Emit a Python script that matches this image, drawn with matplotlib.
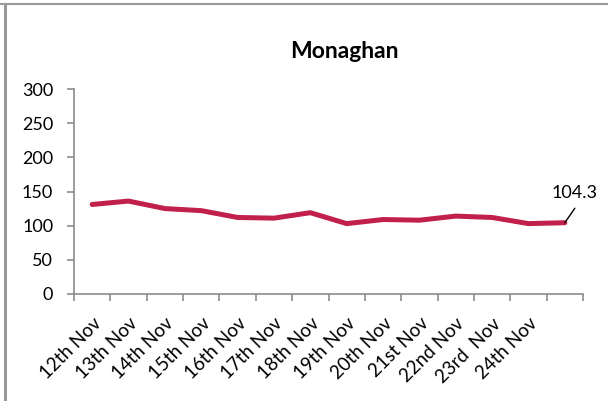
import matplotlib.pyplot as plt
from matplotlib.lines import Line2D
import numpy as np

plt.rcParams['font.family'] = ['Lato', 'DejaVu Sans']

# Data
dates = ['12th Nov', '13th Nov', '14th Nov', '15th Nov', '16th Nov', '17th Nov',
         '18th Nov', '19th Nov', '20th Nov', '21st Nov', '22nd Nov', '23rd  Nov',
         '24th Nov', '']
values = [131, 136, 125, 122, 112, 111, 119, 103, 109, 108, 114, 112, 103, 104.3]

line_color = '#C0204A'
axis_color = '#8C8C8C'

fig = plt.figure(figsize=(6.08, 4.01), dpi=100)
ax = fig.add_axes([74 / 608, 1 - 294 / 401, (583 - 74) / 608, (294 - 89) / 401])

x = np.arange(len(values))
ax.plot(x, values, color=line_color, lw=3.6, solid_capstyle='round', solid_joinstyle='round')

ax.set_xlim(-0.5, len(values) - 0.5)
ax.set_ylim(0, 300)
ax.set_yticks(range(0, 301, 50))

# category labels at centres, tick marks at boundaries
ax.set_xticks(x)
ax.set_xticklabels(dates, rotation=45, ha='right', va='top', rotation_mode='anchor', fontsize=13.5)
ax.set_xticks(np.arange(-0.5, len(values)), minor=True)
ax.tick_params(axis='x', which='major', length=0, pad=15)
ax.tick_params(axis='x', which='minor', length=5, width=1.2, color=axis_color, direction='out')
ax.tick_params(axis='y', length=5, width=1.2, color=axis_color, direction='out', pad=10, labelsize=13)

for side in ['top', 'right']:
    ax.spines[side].set_visible(False)
for side in ['left', 'bottom']:
    ax.spines[side].set_color(axis_color)
    ax.spines[side].set_linewidth(1.2)

# last value label with leader line
ax.annotate('', xy=(x[-1], values[-1]), xytext=(10, 14.5), textcoords='offset pixels',
            arrowprops=dict(arrowstyle='-', color='black', lw=1, shrinkA=0, shrinkB=0))
ax.annotate(f'{values[-1]}', xy=(x[-1], values[-1]), xytext=(10, 30), textcoords='offset pixels',
            ha='center', va='center', fontsize=13)

fig.text(344 / 608, 1 - 52 / 401, 'Monaghan', ha='center', va='center', fontsize=16.5, fontweight='bold')

# outer chart frame (top and left edges visible)
fig.add_artist(Line2D([0, 1], [1 - 4.3 / 401, 1 - 4.3 / 401], transform=fig.transFigure, color='#999999', lw=1.5))
fig.add_artist(Line2D([5 / 608, 5 / 608], [0, 1 - 4.3 / 401], transform=fig.transFigure, color='#999999', lw=2.2))

fig.savefig('out.png', dpi=100)
